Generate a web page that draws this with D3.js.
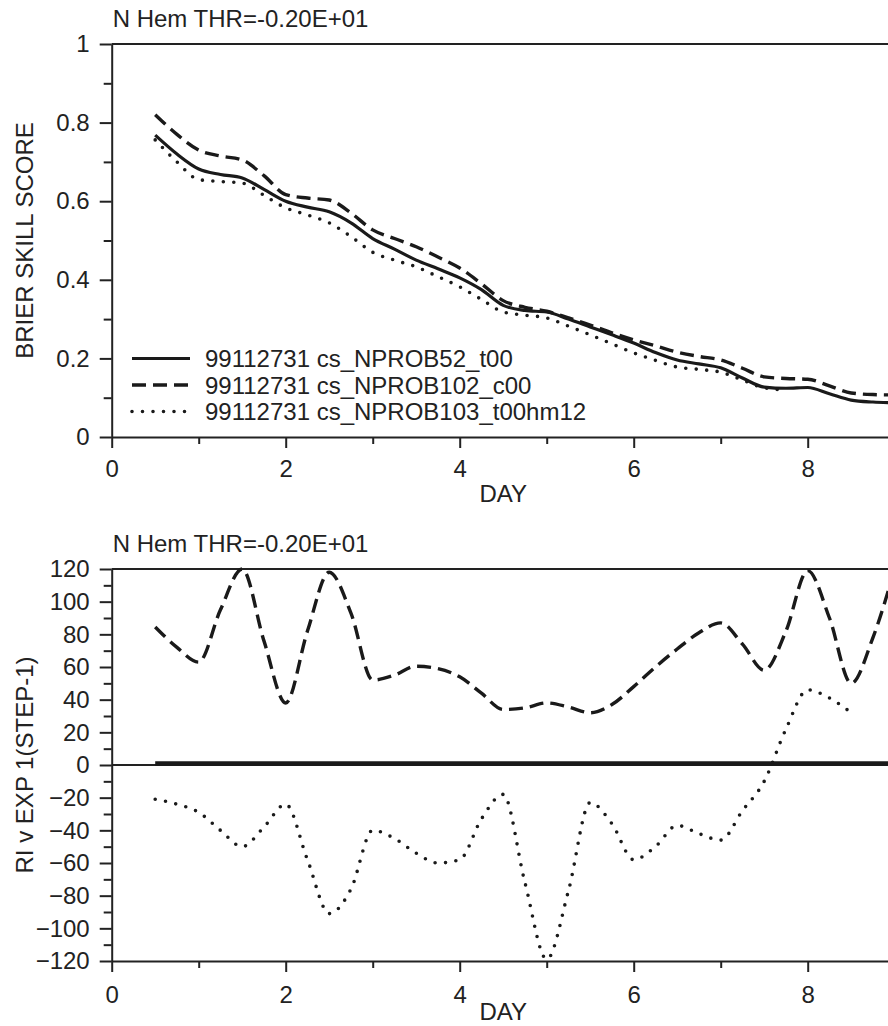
<!DOCTYPE html>
<html>
<head>
<meta charset="utf-8">
<script src="https://cdn.jsdelivr.net/npm/d3@7"></script>
<style>
  body { margin: 0; background: #fff; }
  svg { display: block; }
  text { font-family: "Liberation Sans", Arial, Helvetica, sans-serif; fill: #222; }
  .axis text { font-size: 24px; }
  .axis path, .axis line { stroke: #222; stroke-width: 2; }
</style>
</head>
<body>
<div id="chart"></div>
<script>
// 数据：横轴天数，每 0.25 天一个点
const days = [0.5, 0.75, 1, 1.25, 1.5, 1.75, 2, 2.25, 2.5, 2.75, 3, 3.25, 3.5, 3.75, 4, 4.25, 4.5,
              4.75, 5, 5.25, 5.5, 5.75, 6, 6.25, 6.5, 6.75, 7, 7.25, 7.5, 7.75, 8, 8.25, 8.5, 8.75, 9];

// 上图 Brier skill score
const bssSolid = [0.768, 0.72, 0.682, 0.668, 0.659, 0.63, 0.6, 0.585, 0.573, 0.545, 0.505, 0.478, 0.45, 0.428, 0.405, 0.375, 0.335,
                  0.322, 0.318, 0.3, 0.28, 0.26, 0.239, 0.215, 0.196, 0.186, 0.176, 0.15, 0.127, 0.124, 0.126, 0.11, 0.094, 0.089, 0.087];
const bssDashed = [0.82, 0.77, 0.73, 0.715, 0.705, 0.665, 0.617, 0.608, 0.603, 0.57, 0.527, 0.505, 0.484, 0.458, 0.43, 0.39, 0.347,
                   0.33, 0.32, 0.303, 0.285, 0.265, 0.247, 0.232, 0.216, 0.205, 0.196, 0.175, 0.153, 0.149, 0.147, 0.13, 0.112, 0.108, 0.107];
const bssDotted = [0.756, 0.7, 0.655, 0.65, 0.646, 0.615, 0.583, 0.565, 0.545, 0.51, 0.47, 0.45, 0.433, 0.408, 0.382, 0.35, 0.318,
                   0.31, 0.303, 0.282, 0.26, 0.237, 0.214, 0.195, 0.178, 0.172, 0.165, 0.145, 0.125, 0.12];

// 下图 RI v EXP 1
const riSolid = days.map(() => 0);
const riDashed = [84.5, 72, 63, 95, 120, 76, 38, 82, 118, 93, 52, 55, 60.5, 59, 54, 44, 34,
                  35, 38, 35.5, 32, 37, 48, 60, 71, 81, 87, 74, 58, 82, 119, 90, 50, 78, 120];
const riDotted = [-21, -24, -29, -40, -50, -38, -24, -58, -91, -76, -40, -45, -54, -60, -58, -33, -18,
                  -72, -119, -77, -23, -36, -58, -50, -37, -42, -46, -28, -10, 22, 46, 41, 32];

const legendLabels = ["99112731 cs_NPROB52_t00", "99112731 cs_NPROB102_c00", "99112731 cs_NPROB103_t00hm12"];
const title = "N Hem THR=-0.20E+01";

const width = 888, height = 1026;
const svg = d3.select("#chart").append("svg").attr("width", width).attr("height", height);

const left = 111.7, right = 894.7;
const x = d3.scaleLinear().domain([0, 9]).range([left, right]);

const styles = {
  solid:  { dash: null, width: 3.2, cap: "butt" },
  dashed: { dash: "14,7", width: 3.4, cap: "butt" },
  dotted: { dash: "0,10.5", width: 3.6, cap: "round" }
};

function panel(opts) {
  const { top, bottom, domain, major, minor, fmt, ylabel, series, id } = opts;
  const y = d3.scaleLinear().domain(domain).range([bottom, top]);
  const g = svg.append("g");

  // 标题
  g.append("text").attr("x", left + 1).attr("y", top - 17)
    .attr("font-size", 24).text(title);

  // 纵轴标题
  g.append("text")
    .attr("transform", `translate(33,${(top + bottom) / 2}) rotate(-90)`)
    .attr("text-anchor", "middle").attr("font-size", 24).text(ylabel);

  // 次刻度
  g.append("g").attr("class", "axis").attr("transform", `translate(${left},0)`)
    .call(d3.axisLeft(y).tickValues(minor).tickSize(8).tickFormat(""))
    .call(a => a.select(".domain").remove());
  g.append("g").attr("class", "axis").attr("transform", `translate(0,${bottom})`)
    .call(d3.axisBottom(x).tickValues([1, 3, 5, 7]).tickSize(7).tickFormat(""))
    .call(a => a.select(".domain").remove());

  // 主刻度
  g.append("g").attr("class", "axis").attr("transform", `translate(${left},0)`)
    .call(d3.axisLeft(y).tickValues(major).tickSize(12).tickSizeOuter(0).tickPadding(10).tickFormat(fmt));
  const xa = g.append("g").attr("class", "axis").attr("transform", `translate(0,${bottom})`)
    .call(d3.axisBottom(x).tickValues([0, 2, 4, 6, 8]).tickSize(11).tickSizeOuter(0).tickPadding(opts.xpad));

  // 上边框
  g.append("line").attr("x1", left).attr("x2", right).attr("y1", top).attr("y2", top)
    .attr("stroke", "#222").attr("stroke-width", 2);

  // 横轴标题
  g.append("text").attr("x", (left + right) / 2).attr("y", opts.dayY)
    .attr("text-anchor", "middle").attr("font-size", 24).text("DAY");

  // 剪裁区
  g.append("clipPath").attr("id", id).append("rect")
    .attr("x", left).attr("y", top - 2).attr("width", right - left).attr("height", bottom - top + 4);

  const plot = g.append("g").attr("clip-path", `url(#${id})`);

  if (opts.zeroLine) {
    plot.append("line").attr("x1", left).attr("x2", right).attr("y1", y(0)).attr("y2", y(0))
      .attr("stroke", "#222").attr("stroke-width", 2);
  }

  series.forEach(s => {
    const st = styles[s.style];
    const line = d3.line().x((d, i) => x(days[i])).y(d => y(d)).curve(d3.curveMonotoneX);
    plot.append("path").datum(s.values)
      .attr("d", line)
      .attr("fill", "none")
      .attr("stroke", "#1a1a1a")
      .attr("stroke-width", s.width || st.width)
      .attr("stroke-dasharray", st.dash)
      .attr("stroke-linecap", st.cap)
      .attr("transform", s.dy ? `translate(0,${s.dy})` : null);
  });
  return { g, y };
}

// 上图
const p1 = panel({
  id: "clip1", top: 44, bottom: 437, domain: [0, 1],
  major: [0, 0.2, 0.4, 0.6, 0.8, 1], minor: d3.range(0.1, 1, 0.2),
  fmt: d => d === 0 || d === 1 ? d3.format("d")(d) : d3.format(".1f")(d),
  ylabel: "BRIER SKILL SCORE", xpad: 12, dayY: 502,
  series: [
    { values: bssSolid, style: "solid" },
    { values: bssDashed, style: "dashed" },
    { values: bssDotted, style: "dotted" }
  ]
});

// 图例
const legendStyles = ["solid", "dashed", "dotted"];
legendLabels.forEach((lab, i) => {
  const by = 367 + i * 26.5;
  const st = styles[legendStyles[i]];
  p1.g.append("line").attr("x1", 132).attr("x2", 190).attr("y1", by - 8.5).attr("y2", by - 8.5)
    .attr("stroke", "#1a1a1a").attr("stroke-width", st.width)
    .attr("stroke-dasharray", st.dash).attr("stroke-linecap", st.cap);
  p1.g.append("text").attr("x", 205).attr("y", by).attr("font-size", 24).text(lab);
});

// 下图
panel({
  id: "clip2", top: 569, bottom: 961, domain: [-120, 120],
  major: d3.range(-120, 121, 20), minor: d3.range(-110, 120, 20),
  fmt: d3.format("d"),
  ylabel: "RI v EXP 1(STEP-1)", xpad: 14, dayY: 1020, zeroLine: true,
  series: [
    { values: riSolid, style: "solid", width: 4.5, dy: -1.5 },
    { values: riDashed, style: "dashed" },
    { values: riDotted, style: "dotted" }
  ]
});
</script>
</body>
</html>
